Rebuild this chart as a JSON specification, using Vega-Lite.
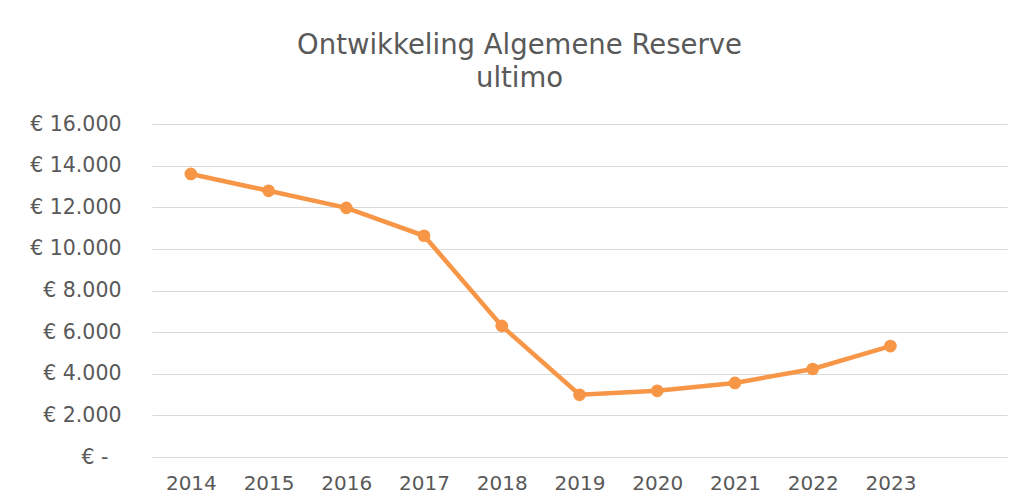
{
  "$schema": "https://vega.github.io/schema/vega-lite/v6.json",
  "width": 855,
  "height": 333,
  "autosize": {"type": "none"},
  "padding": {"left": 152, "top": 124, "right": 10, "bottom": 47},
  "background": "white",
  "title": {
    "text": ["Ontwikkeling Algemene Reserve", "ultimo"],
    "font": "DejaVu Sans",
    "fontSize": 27.5,
    "fontWeight": "normal",
    "color": "#595959",
    "lineHeight": 33,
    "anchor": "middle",
    "dx": -60,
    "offset": 22
  },
  "data": {
    "values": [
      {"jaar": 2014, "reserve": 13600},
      {"jaar": 2015, "reserve": 12790},
      {"jaar": 2016, "reserve": 11970},
      {"jaar": 2017, "reserve": 10630},
      {"jaar": 2018, "reserve": 6300},
      {"jaar": 2019, "reserve": 2990},
      {"jaar": 2020, "reserve": 3180},
      {"jaar": 2021, "reserve": 3560},
      {"jaar": 2022, "reserve": 4230},
      {"jaar": 2023, "reserve": 5330}
    ]
  },
  "encoding": {
    "x": {
      "field": "jaar",
      "type": "quantitative",
      "scale": {"domain": [2013.5, 2024.5], "nice": false, "zero": false},
      "axis": {
        "title": null,
        "values": [2014, 2015, 2016, 2017, 2018, 2019, 2020, 2021, 2022, 2023],
        "format": "d",
        "grid": false,
        "domain": false,
        "ticks": false,
        "labelFont": "DejaVu Sans",
        "labelFontSize": 20,
        "labelColor": "#595959",
        "labelPadding": 16
      }
    },
    "y": {
      "field": "reserve",
      "type": "quantitative",
      "scale": {"domain": [0, 16000], "nice": false},
      "axis": {
        "title": null,
        "values": [0, 2000, 4000, 6000, 8000, 10000, 12000, 14000, 16000],
        "labelExpr": "datum.value == 0 ? '€ -' : '€ ' + replace(format(datum.value, ','), ',', '.')",
        "grid": true,
        "gridColor": "#d9d9d9",
        "gridWidth": 1,
        "domain": false,
        "ticks": false,
        "labelFont": "DejaVu Sans",
        "labelFontSize": 20.5,
        "labelColor": "#595959",
        "labelPadding": {"condition": {"test": "datum.value == 0", "value": 44}, "value": 31}
      }
    }
  },
  "layer": [
    {"mark": {"type": "line", "color": "#F79646", "strokeWidth": 4.5}},
    {"mark": {"type": "point", "filled": true, "color": "#F79646", "opacity": 1, "size": 160}}
  ],
  "config": {"view": {"stroke": null}}
}
